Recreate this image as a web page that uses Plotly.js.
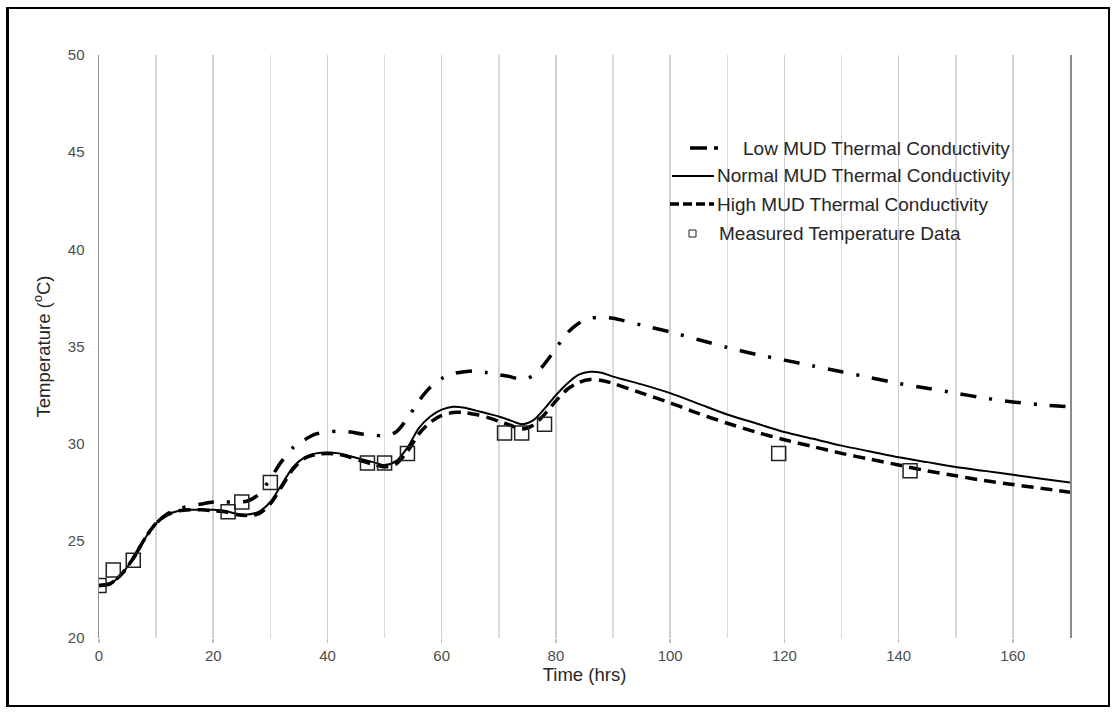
<!DOCTYPE html>
<html>
<head>
<meta charset="utf-8">
<script src="https://cdn.plot.ly/plotly-3.0.1.min.js"></script>
<style>
  html, body { margin: 0; padding: 0; background: #fff; }
  #frame {
    position: absolute; left: 6px; top: 7px; width: 1099px; height: 696px;
    border: 2px solid #000; border-left-width: 3px; box-sizing: content-box;
  }
  #chart { position: absolute; left: 0; top: 0; width: 1115px; height: 712px; }
</style>
</head>
<body>
<div id="frame"></div>
<div id="chart"></div>
<script>
// Simulated temperature histories (time in hours, temperature in °C)
const timeHrs = [0, 2, 4, 6, 8, 10, 12, 14, 16, 18, 20, 22, 24, 26, 28, 30, 32, 34, 36, 38,
  40, 42, 44, 46, 48, 50, 52, 54, 56, 58, 60, 62, 64, 66, 68, 70, 72, 74, 76, 78,
  80, 82, 84, 86, 88, 90, 95, 100, 105, 110, 115, 120, 125, 130, 135, 140, 145, 150,
  155, 160, 165, 170];

const lowMud = [22.7, 22.8, 23.3, 24.1, 25.1, 25.9, 26.4, 26.65, 26.8, 26.9, 27.0, 27.0, 27.0, 27.05, 27.4, 28.2, 29.1, 29.8, 30.2, 30.5,
  30.6, 30.65, 30.6, 30.5, 30.45, 30.4, 30.6, 31.3, 32.2, 32.9, 33.35, 33.6, 33.7, 33.75, 33.65, 33.55, 33.45, 33.3, 33.5, 34.1,
  34.9, 35.7, 36.2, 36.45, 36.5, 36.45, 36.1, 35.75, 35.35, 34.95, 34.6, 34.3, 34.0, 33.7, 33.4, 33.1, 32.85, 32.6,
  32.35, 32.15, 32.0, 31.9];

const normalMud = [22.7, 22.8, 23.3, 24.1, 25.1, 25.9, 26.35, 26.55, 26.6, 26.6, 26.6, 26.55, 26.4, 26.35, 26.5, 27.0, 27.9, 28.8, 29.3, 29.5,
  29.55, 29.5, 29.35, 29.2, 29.05, 28.9, 29.1, 29.8, 30.8, 31.4, 31.75, 31.9, 31.85, 31.7, 31.55, 31.4, 31.2, 31.0, 31.2, 31.8,
  32.5, 33.1, 33.55, 33.7, 33.65, 33.45, 33.05, 32.6, 32.05, 31.5, 31.05, 30.6, 30.25, 29.9, 29.6, 29.3, 29.05, 28.8,
  28.6, 28.4, 28.2, 28.0];

const highMud = [22.7, 22.8, 23.3, 24.1, 25.1, 25.9, 26.35, 26.55, 26.6, 26.6, 26.55, 26.5, 26.35, 26.3, 26.4, 26.9, 27.8, 28.7, 29.25, 29.45,
  29.5, 29.45, 29.3, 29.1, 28.95, 28.8, 28.95, 29.6, 30.5, 31.1, 31.45, 31.6, 31.6, 31.5, 31.35, 31.15, 30.95, 30.75, 30.95, 31.5,
  32.2, 32.8, 33.15, 33.3, 33.25, 33.1, 32.6, 32.1, 31.55, 31.05, 30.6, 30.2, 29.85, 29.5, 29.2, 28.9, 28.6, 28.35,
  28.1, 27.9, 27.7, 27.5];

// Field measurements
const measuredTime = [0, 2.5, 6, 22.6, 25, 30, 47, 50, 54, 71, 74, 78, 119, 142];
const measuredTemp = [22.7, 23.5, 24.0, 26.5, 27.0, 28.0, 29.0, 29.0, 29.5, 30.55, 30.55, 31.0, 29.5, 28.6];

const xTickVals = [0, 20, 40, 60, 80, 100, 120, 140, 160];
const yTickVals = [20, 25, 30, 35, 40, 45, 50];

const seriesNames = [
  'Low MUD Thermal Conductivity',
  'Normal MUD Thermal Conductivity',
  'High MUD Thermal Conductivity',
  'Measured Temperature Data'
];

const W = 1115, H = 712;
const M = { l: 99, r: 45, t: 55, b: 74 };
const plotW = W - M.l - M.r, plotH = H - M.t - M.b;
const px = x => (x - M.l) / plotW;
const py = y => (H - M.b - y) / plotH;

const FONT = 'Liberation Sans, Arial, sans-serif';
const dashDot = '16px,13px,3px,13px';
const dashed = '12px,7px';

const traces = [
  { x: timeHrs, y: lowMud, name: seriesNames[0], mode: 'lines',
    line: { color: '#000', width: 3.5, dash: dashDot, shape: 'spline', smoothing: 0.8 } },
  { x: timeHrs, y: normalMud, name: seriesNames[1], mode: 'lines',
    line: { color: '#000', width: 2, shape: 'spline', smoothing: 0.8 } },
  { x: timeHrs, y: highMud, name: seriesNames[2], mode: 'lines',
    line: { color: '#000', width: 3.5, dash: dashed, shape: 'spline', smoothing: 0.8 } },
  { x: measuredTime, y: measuredTemp, name: seriesNames[3], mode: 'markers',
    marker: { symbol: 'square-open', size: 14, color: '#222', line: { width: 1.5, color: '#222' } } }
];

// Legend drawn in pixel positions
const legendRows = [
  { y: 148, x0: 690, x1: 731, tx: 741, dash: '17px,7px,4px,20px', width: 3.5 },
  { y: 176, x0: 672, x1: 714, tx: 715, dash: 'solid', width: 2 },
  { y: 204, x0: 670, x1: 714, tx: 715, dash: '9px,4px', width: 3.5 },
  { y: 233, tx: 717 }
];
const shapes = [];
const annotations = [];
legendRows.forEach((r, i) => {
  if (i < 3) {
    shapes.push({ type: 'line', xref: 'paper', yref: 'paper',
      x0: px(r.x0), x1: px(r.x1), y0: py(r.y), y1: py(r.y),
      line: { color: '#000', width: r.width, dash: r.dash } });
  } else {
    shapes.push({ type: 'rect', xref: 'paper', yref: 'paper',
      x0: px(689), x1: px(696), y0: py(r.y - 3), y1: py(r.y + 4),
      line: { color: '#222', width: 1 }, fillcolor: 'rgba(0,0,0,0)' });
  }
  annotations.push({ xref: 'paper', yref: 'paper', x: px(r.tx), y: py(r.y),
    xanchor: 'left', yanchor: 'middle', showarrow: false, text: seriesNames[i],
    font: { family: FONT, size: 19, color: '#262626' } });
});

const layout = {
  width: W, height: H,
  margin: M,
  paper_bgcolor: 'rgba(0,0,0,0)',
  plot_bgcolor: 'rgba(0,0,0,0)',
  showlegend: false,
  xaxis: {
    range: [0, 170],
    tickvals: xTickVals,
    ticktext: xTickVals.map(String),
    showgrid: true, gridcolor: '#cfcfcf', gridwidth: 1.5,
    minor: { dtick: 10, tick0: 0, showgrid: true, gridcolor: '#d9d9d9', gridwidth: 1.5 },
    ticks: 'outside', ticklen: 4, tickcolor: '#bfbfbf', tickwidth: 1.5,
    zeroline: false, showline: false,
    tickfont: { family: FONT, size: 15, color: '#4d4d4d' },
    title: { text: 'Time (hrs)', standoff: 5, font: { family: FONT, size: 18.5, color: '#262626' } }
  },
  yaxis: {
    range: [20, 50],
    tickvals: yTickVals,
    showgrid: false, zeroline: false,
    showline: true, mirror: true, linecolor: '#8c8c8c', linewidth: 1.5,
    ticks: '', ticklabelstandoff: 10,
    tickfont: { family: FONT, size: 15, color: '#4d4d4d' },
    title: { text: 'Temperature (<sup>o</sup>C)', standoff: 12, font: { family: FONT, size: 18.5, color: '#262626' } }
  },
  shapes: shapes,
  annotations: annotations
};

Plotly.newPlot('chart', traces, layout, { displayModeBar: false, staticPlot: true });
</script>
</body>
</html>
